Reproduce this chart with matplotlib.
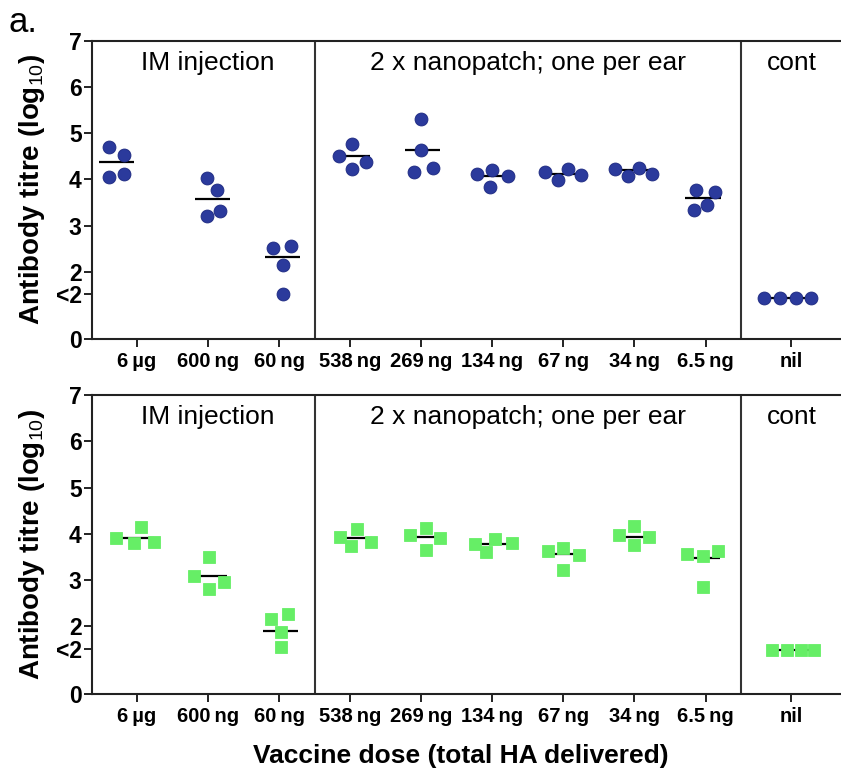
import numpy as np
import matplotlib
matplotlib.use("Agg")
import matplotlib.pyplot as plt
import matplotlib.transforms as mtransforms

plt.rcParams['font.family'] = ['Liberation Sans', 'DejaVu Sans']
plt.rcParams['mathtext.fontset'] = 'custom'
plt.rcParams['mathtext.rm'] = 'Liberation Sans'
plt.rcParams['mathtext.it'] = 'Liberation Sans:italic'
plt.rcParams['mathtext.bf'] = 'Liberation Sans:bold'

# doses, left to right
doses = ['6\u2009µg', '600\u2009ng', '60\u2009ng', '538\u2009ng', '269\u2009ng',
         '134\u2009ng', '67\u2009ng', '34\u2009ng', '6.5\u2009ng', 'nil']

# log10 titres, 4 mice per group (values below 2 sit on the "<2" segment)
titre_top = [
    [4.69, 4.53, 4.05, 4.12],
    [4.02, 3.76, 3.21, 3.31],
    [2.51, 2.56, 2.15, 1.35],
    [4.50, 4.76, 4.37, 4.22],
    [5.31, 4.63, 4.17, 4.25],
    [4.12, 4.20, 4.07, 3.83],
    [4.15, 4.22, 3.99, 4.09],
    [4.22, 4.25, 4.08, 4.12],
    [3.77, 3.73, 3.45, 3.34],
    [1.21, 1.21, 1.21, 1.21],
]
centre_top = [4.37, 3.58, 2.32, 4.50, 4.63, 4.07, 4.12, 4.20, 3.59, 1.21]

titre_bottom = [
    [3.90, 3.80, 4.14, 3.83],
    [3.10, 3.51, 2.81, 2.96],
    [2.17, 2.27, 1.83, 1.38],
    [3.94, 4.10, 3.74, 3.83],
    [3.98, 4.12, 3.90, 3.65],
    [3.79, 3.88, 3.80, 3.60],
    [3.62, 3.70, 3.54, 3.21],
    [3.98, 4.17, 3.94, 3.76],
    [3.56, 3.52, 3.62, 2.85],
    [1.29, 1.29, 1.29, 1.29],
]
centre_bottom = [3.92, 3.10, 1.85, 3.91, 3.94, 3.78, 3.56, 3.94, 3.47, 1.29]

# horizontal scatter so the points don't overlap
spread_top = [
    [-0.39, -0.18, -0.39, -0.18],
    [-0.02, 0.12, -0.02, 0.17],
    [-0.09, 0.17, 0.06, 0.06],
    [-0.16, 0.03, 0.22, 0.02],
    [0.0, 0.0, -0.10, 0.16],
    [-0.21, 0.0, 0.22, -0.03],
    [-0.26, 0.06, -0.07, 0.25],
    [-0.28, 0.07, -0.09, 0.25],
    [-0.13, 0.13, 0.02, -0.16],
    [-0.38, -0.15, 0.07, 0.28],
]
spread_bottom = [
    [-0.30, -0.04, 0.06, 0.24],
    [-0.20, 0.01, 0.01, 0.23],
    [-0.12, 0.13, 0.03, 0.03],
    [-0.15, 0.09, 0.01, 0.29],
    [-0.16, 0.06, 0.26, 0.06],
    [-0.24, 0.04, 0.28, -0.09],
    [-0.22, 0.0, 0.22, 0.0],
    [-0.22, 0.0, 0.20, 0.0],
    [-0.26, -0.04, 0.17, -0.04],
    [-0.27, -0.06, 0.14, 0.33],
]

xpos = np.array([0, 1, 2, 3, 4, 5, 6, 7, 8, 9.2])

# axis below 2 is squeezed
K = 0.73


def fwd(v):
    v = np.asarray(v, dtype=float)
    return np.where(v < 2, v * K, 2 * K + v - 2)


def inv(u):
    u = np.asarray(u, dtype=float)
    return np.where(u < 2 * K, u / K, u - 2 * K + 2)


fig = plt.figure(figsize=(8.41, 7.75), dpi=100)
W, H = 841.0, 775.0
ax_top = fig.add_axes([91.5 / W, (H - 339.3) / H, (W - 91.5) / W + 0.002, 298.6 / H])
ax_bot = fig.add_axes([91.5 / W, (H - 694.0) / H, (W - 91.5) / W + 0.002, 299.0 / H])


def panel(ax, titres, centres, spread, marker, face, edge, msize):
    ax.set_yscale('function', functions=(fwd, inv))
    ax.set_ylim(0, 7)
    ax.set_xlim(-0.64, 9.93)
    for i, vals in enumerate(titres):
        xs = xpos[i] + np.array(spread[i])
        mid = xpos[i] + np.mean(spread[i])
        ax.hlines(centres[i], mid - 0.25, mid + 0.25, color='black', lw=1.6, zorder=2)
        ax.plot(xs, vals, linestyle='none', marker=marker, ms=msize,
                mfc=face, mec=edge, mew=0.6, zorder=3)
    for xb in (2.5, 8.5):
        ax.axvline(xb, color='#333333', lw=1.5, zorder=1)
    ax.set_yticks([0, 1.33, 2, 3, 4, 5, 6, 7])
    ax.set_yticklabels(['0', '<2', '2', '3', '4', '5', '6', '7'])
    ax.set_xticks(xpos)
    ax.set_xticklabels(doses)
    for lab in ax.get_yticklabels():
        lab.set_fontsize(16.5)
        lab.set_fontweight('bold')
    for lab in ax.get_xticklabels():
        lab.set_fontsize(14.5)
        lab.set_fontweight('bold')
    ax.tick_params(axis='y', length=5.5, width=1.4, pad=1.5, color='#222222')
    ax.tick_params(axis='x', length=6, width=1.4, pad=3, color='#222222')
    ax.spines['right'].set_visible(False)
    for s in ('left', 'bottom', 'top'):
        ax.spines[s].set_linewidth(1.5)
        ax.spines[s].set_color('#222222')
    trans = mtransforms.blended_transform_factory(ax.transData, ax.transAxes)
    ax.text(1.0, 0.903, 'IM injection', transform=trans, ha='center', va='baseline', fontsize=19)
    ax.text(5.5, 0.903, '2 x nanopatch; one per ear', transform=trans, ha='center', va='baseline', fontsize=19)
    ax.text(9.22, 0.903, 'cont', transform=trans, ha='center', va='baseline', fontsize=19)


panel(ax_top, titre_top, centre_top, spread_top, 'o', '#2b3a9c', '#1c2880', 9.3)
panel(ax_bot, titre_bottom, centre_bottom, spread_bottom, 's', '#66ee66', '#66ee66', 8.2)

ylab = 'Antibody titre (log$_{10}$)'
fig.text(32 / W, 1 - 189 / H, ylab, rotation=90, ha='center', va='center',
         fontsize=20, fontweight='bold')
fig.text(32 / W, 1 - 544 / H, ylab, rotation=90, ha='center', va='center',
         fontsize=20, fontweight='bold')
fig.text(461 / W, 1 - 763 / H, 'Vaccine dose (total HA delivered)', ha='center',
         va='baseline', fontsize=19, fontweight='bold')
fig.text(9 / W, 1 - 32 / H, 'a.', ha='left', va='baseline', fontsize=25)

fig.savefig('out.png', dpi=100)
